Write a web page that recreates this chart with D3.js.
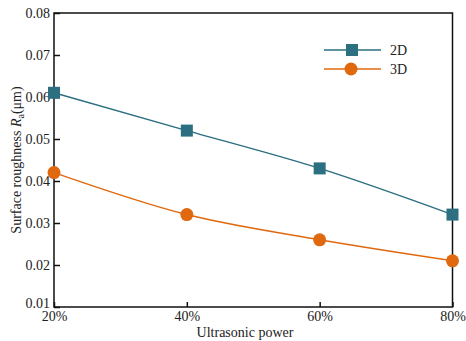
<!DOCTYPE html>
<html><head><meta charset="utf-8">
<script src="https://cdn.jsdelivr.net/npm/d3@7"></script>
<style>body{margin:0;background:#fff}svg{display:block}text{font-family:"Liberation Serif","Times New Roman",serif;fill:#222}</style>
</head><body><svg id="c" width="466" height="341"></svg>
<script>
const categories = ["20%","40%","60%","80%"];
const series2D = [0.061,0.052,0.043,0.032];
const series3D = [0.042,0.032,0.026,0.021];
const yTicks = [0.01,0.02,0.03,0.04,0.05,0.06,0.07,0.08];
const seriesNames = ["2D","3D"];
const colors = ["#2b6f80","#e0690f"];

const svg = d3.select("#c");
const L=54, R=452.5, T=13, B=307;
const x = d3.scalePoint().domain(categories).range([L,R]);
const y = d3.scaleLinear().domain([0.01,0.08]).range([B,T]);

svg.append("rect").attr("x",L).attr("y",T).attr("width",R-L).attr("height",B-T)
  .attr("fill","none").attr("stroke","#111").attr("stroke-width",1.5);

const ya = svg.append("g").attr("transform",`translate(${L},0)`)
  .call(d3.axisLeft(y).tickValues(yTicks).tickFormat(d3.format(".2f")).tickSizeInner(-6).tickSizeOuter(0).tickPadding(4));
ya.select(".domain").remove();
ya.selectAll("line").attr("stroke","#111").attr("stroke-width",1.5);
ya.selectAll("text").attr("font-size",14).style("font-family","Liberation Serif").attr("fill","#222");
ya.selectAll(".tick").filter(d=>d===0.01).select("text").attr("dy","0.05em");

const xa = svg.append("g").attr("transform",`translate(0,${B})`)
  .call(d3.axisBottom(x).tickSizeInner(-5).tickSizeOuter(0).tickPadding(4));
xa.select(".domain").remove();
xa.selectAll("line").attr("stroke","#111").attr("stroke-width",1.5);
xa.selectAll("text").attr("font-size",14).style("font-family","Liberation Serif").attr("fill","#222");

const data = [series2D, series3D];
const line = d3.line().x((d,i)=>x(categories[i])).y(d=>y(d)).curve(d3.curveMonotoneX);
data.forEach((s,k)=>{
  svg.append("path").attr("d",line(s)).attr("fill","none").attr("stroke",colors[k]).attr("stroke-width",1.5);
});
svg.selectAll(".sq").data(series2D).enter().append("rect")
  .attr("x",(d,i)=>x(categories[i])-6).attr("y",d=>y(d)-6).attr("width",12).attr("height",12).attr("fill",colors[0]);
svg.selectAll(".ci").data(series3D).enter().append("circle")
  .attr("cx",(d,i)=>x(categories[i])).attr("cy",d=>y(d)).attr("r",6.5).attr("fill",colors[1]);

const lg = svg.append("g");
[50,69].forEach((ly,k)=>{
  lg.append("line").attr("x1",324).attr("x2",381).attr("y1",ly).attr("y2",ly).attr("stroke",colors[k]).attr("stroke-width",1.5);
  if(k===0) lg.append("rect").attr("x",346).attr("y",ly-6).attr("width",12).attr("height",12).attr("fill",colors[0]);
  else lg.append("circle").attr("cx",351).attr("cy",ly).attr("r",6.5).attr("fill",colors[1]);
  lg.append("text").attr("x",390).attr("y",ly+5).attr("font-size",14).text(seriesNames[k]);
});

svg.append("text").attr("x",245).attr("y",337).attr("text-anchor","middle").attr("font-size",14).text("Ultrasonic power");
const yt = svg.append("text").attr("transform",`translate(21,${(T+B)/2}) rotate(-90)`).attr("text-anchor","middle").attr("font-size",14);
yt.append("tspan").text("Surface roughness ");
yt.append("tspan").attr("font-style","italic").text("R");
yt.append("tspan").attr("font-size",10).attr("dy",3).text("a");
yt.append("tspan").attr("dy",-3).text("(μm)");
</script></body></html>
